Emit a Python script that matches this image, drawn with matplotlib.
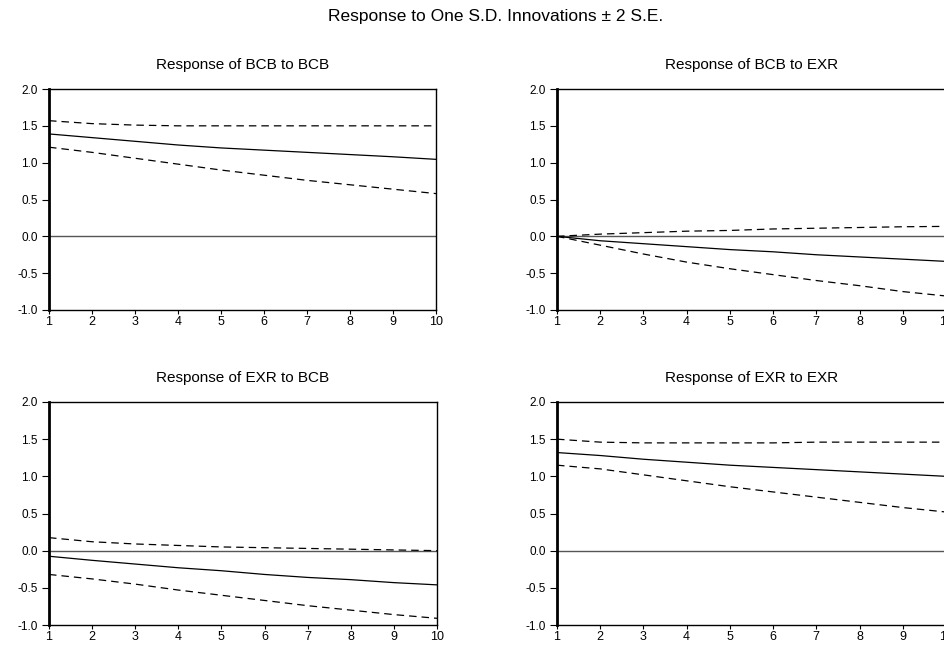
import matplotlib
matplotlib.use('Agg')
import matplotlib.pyplot as plt

plt.rcParams['font.family'] = ['Liberation Sans', 'DejaVu Sans']

periods = [1, 2, 3, 4, 5, 6, 7, 8, 9, 10]

# Response of BCB to BCB
bcb_bcb = [1.39, 1.34, 1.29, 1.24, 1.20, 1.17, 1.14, 1.11, 1.08, 1.045]
bcb_bcb_hi = [1.57, 1.53, 1.51, 1.50, 1.50, 1.50, 1.50, 1.50, 1.50, 1.50]
bcb_bcb_lo = [1.21, 1.14, 1.06, 0.98, 0.90, 0.83, 0.76, 0.70, 0.64, 0.58]

# Response of BCB to EXR
bcb_exr = [0.0, -0.06, -0.10, -0.14, -0.18, -0.21, -0.25, -0.28, -0.31, -0.34]
bcb_exr_hi = [0.0, 0.03, 0.05, 0.07, 0.08, 0.10, 0.11, 0.12, 0.13, 0.135]
bcb_exr_lo = [0.0, -0.12, -0.24, -0.35, -0.44, -0.52, -0.60, -0.67, -0.75, -0.81]

# Response of EXR to BCB
exr_bcb = [-0.075, -0.13, -0.18, -0.23, -0.27, -0.32, -0.36, -0.39, -0.43, -0.46]
exr_bcb_hi = [0.175, 0.12, 0.09, 0.07, 0.05, 0.04, 0.03, 0.02, 0.01, 0.0]
exr_bcb_lo = [-0.32, -0.38, -0.45, -0.53, -0.60, -0.67, -0.74, -0.80, -0.86, -0.91]

# Response of EXR to EXR
exr_exr = [1.32, 1.28, 1.23, 1.19, 1.15, 1.12, 1.09, 1.06, 1.03, 1.00]
exr_exr_hi = [1.50, 1.46, 1.45, 1.45, 1.45, 1.45, 1.46, 1.46, 1.46, 1.46]
exr_exr_lo = [1.15, 1.10, 1.02, 0.94, 0.86, 0.79, 0.72, 0.65, 0.58, 0.52]

titles = ['Response of BCB to BCB', 'Response of BCB to EXR',
          'Response of EXR to BCB', 'Response of EXR to EXR']
series = [(bcb_bcb, bcb_bcb_hi, bcb_bcb_lo),
          (bcb_exr, bcb_exr_hi, bcb_exr_lo),
          (exr_bcb, exr_bcb_hi, exr_bcb_lo),
          (exr_exr, exr_exr_hi, exr_exr_lo)]

W, H = 945, 645
fig = plt.figure(figsize=(W / 100, H / 100), dpi=100)

# axes boxes in pixels: left, top, right, bottom
boxes = [(49, 89, 436, 310), (557, 89, 946, 310),
         (49, 402, 437, 625), (557, 402, 946, 625)]

for (l, t, r, b), title, (mid, hi, lo) in zip(boxes, titles, series):
    ax = fig.add_axes([l / W, 1 - b / H, (r - l) / W, (b - t) / H])
    ax.axhline(0, color='#555555', lw=1.0, zorder=1)
    ax.plot(periods, mid, color='black', lw=0.9)
    ax.plot(periods, hi, color='black', lw=0.9, ls=(0, (6, 4)))
    ax.plot(periods, lo, color='black', lw=0.9, ls=(0, (6, 4)))
    ax.set_xlim(1, 10)
    ax.set_ylim(-1.0, 2.0)
    ax.set_xticks(periods)
    ax.set_yticks([-1.0, -0.5, 0.0, 0.5, 1.0, 1.5, 2.0])
    ax.set_yticklabels(['-1.0', '-0.5', '0.0', '0.5', '1.0', '1.5', '2.0'])
    ax.tick_params(axis='y', labelsize=8.5, length=5, width=0.8, direction='out', pad=3)
    ax.tick_params(axis='x', labelsize=9, length=3, width=0.8, direction='out', pad=1)
    for s in ['top', 'right', 'bottom']:
        ax.spines[s].set_linewidth(1.0)
    ax.spines['left'].set_linewidth(2.0)
    ax.text(0.5, 1 + 24 / (b - t), title, transform=ax.transAxes,
            ha='center', va='center', fontsize=11)

fig.text(496 / W, 1 - 16 / H, 'Response to One S.D. Innovations \u00b1 2 S.E.',
         ha='center', va='center', fontsize=12.5)

plt.savefig('out.png', dpi=100)
